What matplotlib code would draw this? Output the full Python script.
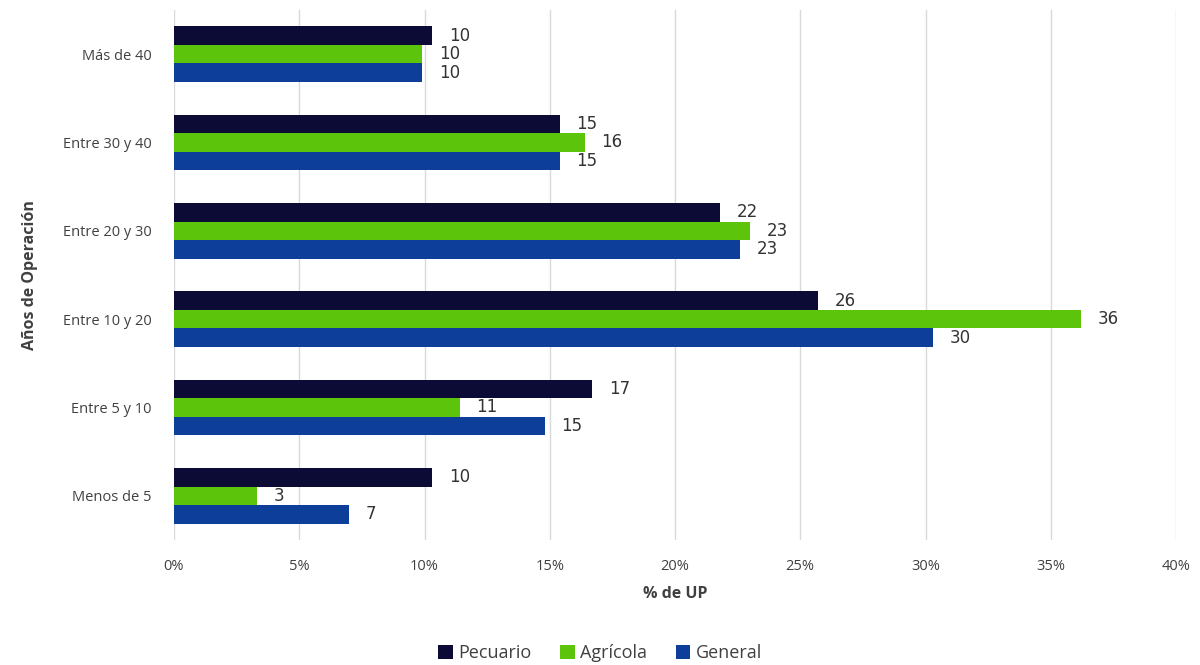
import matplotlib.pyplot as plt
import numpy as np
from matplotlib.ticker import FuncFormatter

categorias = ['Más de 40', 'Entre 30 y 40', 'Entre 20 y 30', 'Entre 10 y 20', 'Entre 5 y 10', 'Menos de 5']
pecuario = [10.3, 15.4, 21.8, 25.7, 16.7, 10.3]
agricola = [9.9, 16.4, 23.0, 36.2, 11.4, 3.3]
general = [9.9, 15.4, 22.6, 30.3, 14.8, 7.0]

series = [('Pecuario', pecuario, '#0b0b36'),
          ('Agrícola', agricola, '#5cc40a'),
          ('General', general, '#0d3f9a')]

plt.rcParams['font.family'] = ['Open Sans', 'DejaVu Sans']

fig = plt.figure(figsize=(12, 6.65), dpi=100)
ax = fig.add_axes([0.145, 0.188, 0.835, 0.797])

y = np.arange(len(categorias))
h = 0.21
for k, (nombre, vals, color) in enumerate(series):
    bars = ax.barh(y + (k - 1) * h, vals, height=h, color=color, label=nombre, zorder=3)
    ax.bar_label(bars, labels=[f'{v:.0f}' for v in vals], padding=12,
                 fontsize=12, color='#333333', family='DejaVu Sans')

ax.set_ylim(len(categorias) - 0.5, -0.5)
ax.set_xlim(0, 40)
ax.set_xticks(np.arange(0, 41, 5))
ax.xaxis.set_major_formatter(FuncFormatter(lambda v, p: f'{v:.0f}%'))
ax.set_yticks(y)
ax.set_yticklabels(categorias)
ax.tick_params(axis='both', length=0, labelsize=10.5, labelcolor='#404040')
ax.tick_params(axis='x', pad=14)
ax.tick_params(axis='y', pad=16)
ax.grid(axis='x', color='#d9d9d9', linewidth=1, zorder=0)
for s in ax.spines.values():
    s.set_visible(False)

ax.set_xlabel('% de UP', fontsize=11.5, fontweight='bold', color='#404040', labelpad=8)
ax.set_ylabel('Años de Operación', fontsize=11.5, fontweight='bold', color='#404040', labelpad=18)

fig.legend(loc='lower center', bbox_to_anchor=(0.5, -0.02), ncol=3, frameon=False,
           fontsize=13, handlelength=0.8, handleheight=0.8, handletextpad=0.3,
           columnspacing=1.6, labelcolor='#404040')

fig.savefig('out.png', dpi=100)
